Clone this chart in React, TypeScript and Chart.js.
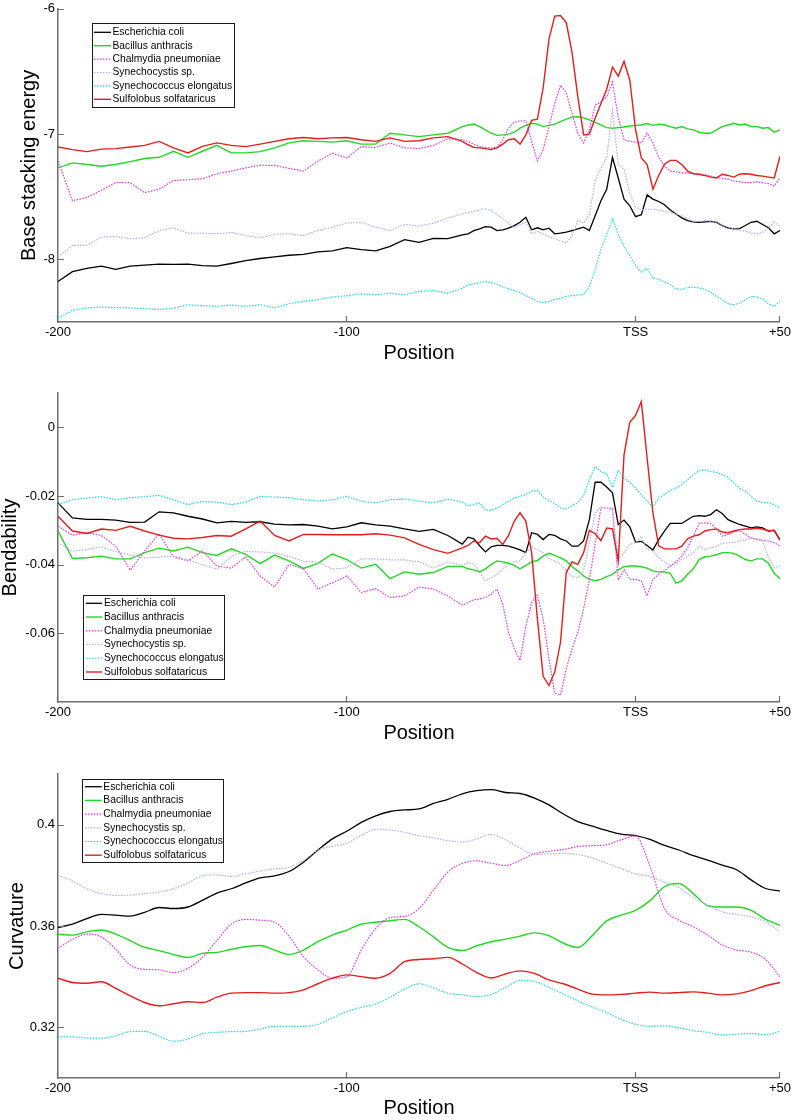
import React, { useEffect, useRef } from 'react';
import { Chart, registerables } from 'chart.js';

Chart.register(...registerables);

const FONT_FAMILY = '"Liberation Sans", Arial, Helvetica, sans-serif';
const AXIS_COLOR = '#6e6e6e';

// ---------- shared categories / ticks ----------
const speciesLabels = [
  'Escherichia coli',
  'Bacillus anthracis',
  'Chalmydia pneumoniae',
  'Synechocystis sp.',
  'Synechococcus elongatus',
  'Sulfolobus solfataricus',
];

const xTickValues = [-200, -100, 0, 50];
const xTickLabels = ['-200', '-100', 'TSS', '+50'];

// positions for the two noisy panels (coarse on the left, finer near the TSS)
const positionsFine = [
  -200, -195, -190, -185, -180, -175, -170, -165, -160, -155,
  -150, -145, -140, -135, -130, -125, -120, -115, -110, -105,
  -100, -95, -90, -85, -80, -75, -70, -65, -60,
  -58, -56, -54, -52, -50, -48, -46, -44, -42, -40,
  -38, -36, -34, -32, -30, -28, -26, -24, -22, -20,
  -18, -16, -14, -12, -10, -8, -6, -4, -2, 0,
  2, 4, 6, 8, 10, 12, 14, 16, 18, 20,
  22, 24, 26, 28, 30, 32, 34, 36, 38, 40,
  42, 44, 46, 48, 50,
];

// positions for the smooth curvature panel
const positionsSmooth = [
  -200, -195, -190, -185, -180, -175, -170, -165, -160, -155,
  -150, -145, -140, -135, -130, -125, -120, -115, -110, -105,
  -100, -95, -90, -85, -80, -75, -70, -65, -60, -55,
  -50, -45, -40, -35, -30, -25, -20, -15, -10, -5,
  0, 5, 10, 15, 20, 25, 30, 35, 40, 45, 50,
];

// ---------- Panel 1: base stacking energy ----------
const energyTickValues = [-8, -7, -6];
const energyTickLabels = ['-8', '-7', '-6'];

const ecoliEnergy = [
  -8.177, -8.098, -8.072, -8.054, -8.08, -8.054, -8.046, -8.038, -8.04, -8.038,
  -8.05, -8.054, -8.033, -8.01, -7.993, -7.98, -7.967, -7.96, -7.94, -7.932,
  -7.906, -7.922, -7.932, -7.896, -7.843, -7.864, -7.833, -7.835, -7.804,
  -7.796, -7.77, -7.756, -7.738, -7.743, -7.77, -7.764, -7.75, -7.73, -7.704,
  -7.664, -7.764, -7.748, -7.764, -7.751, -7.796, -7.791, -7.783, -7.77, -7.757,
  -7.743, -7.77, -7.651, -7.532, -7.44, -7.185, -7.35, -7.519, -7.572, -7.659,
  -7.643, -7.485, -7.519, -7.538, -7.564, -7.606, -7.638, -7.669, -7.69, -7.7,
  -7.704, -7.7, -7.696, -7.704, -7.73, -7.748, -7.756, -7.754, -7.73, -7.704,
  -7.696, -7.722, -7.748, -7.796, -7.77,
];
const bacillusEnergy = [
  -7.27, -7.23, -7.243, -7.256, -7.243, -7.22, -7.195, -7.185, -7.137, -7.185,
  -7.137, -7.09, -7.15, -7.15, -7.14, -7.11, -7.07, -7.053, -7.058, -7.064,
  -7.053, -7.08, -7.08, -6.993, -7.006, -7.02, -7.006, -6.993, -6.94,
  -6.927, -6.92, -6.94, -6.966, -6.993, -7.01, -7.006, -7.0, -6.985, -6.953,
  -6.93, -6.914, -6.92, -6.94, -6.93, -6.92, -6.9, -6.88, -6.864, -6.861,
  -6.87, -6.887, -6.906, -6.927, -6.948, -6.953, -6.948, -6.943, -6.935, -6.93,
  -6.927, -6.916, -6.93, -6.92, -6.927, -6.94, -6.953, -6.94, -6.958, -6.966,
  -6.985, -6.993, -6.993, -6.966, -6.94, -6.927, -6.914, -6.927, -6.92, -6.94,
  -6.94, -6.953, -6.948, -6.985, -6.966,
];
const chlamydiaEnergy = [
  -7.216, -7.532, -7.506, -7.448, -7.388, -7.388, -7.467, -7.44, -7.37, -7.364,
  -7.356, -7.317, -7.295, -7.27, -7.248, -7.25, -7.274, -7.295, -7.216, -7.153,
  -7.19, -7.1, -7.106, -7.07, -7.11, -7.116, -7.09, -7.037, -7.045,
  -7.058, -7.08, -7.098, -7.11, -7.11, -7.106, -7.045, -6.953, -6.906, -6.895,
  -6.895, -7.058, -7.216, -7.124, -6.94, -6.756, -6.61, -6.67, -6.835, -6.993,
  -7.07, -6.966, -6.77, -6.742, -6.703, -6.585, -6.87, -7.045, -7.058, -7.064,
  -7.07, -6.993, -7.07, -7.185, -7.256, -7.295, -7.3, -7.31, -7.31, -7.316,
  -7.32, -7.327, -7.335, -7.348, -7.353, -7.36, -7.374, -7.38, -7.388, -7.388,
  -7.38, -7.388, -7.395, -7.414, -7.348,
];
const synechocystisEnergy = [
  -7.98, -7.888, -7.888, -7.822, -7.817, -7.835, -7.827, -7.77, -7.75, -7.79,
  -7.79, -7.796, -7.785, -7.81, -7.827, -7.8, -7.796, -7.81, -7.77, -7.743,
  -7.71, -7.706, -7.743, -7.77, -7.722, -7.733, -7.711, -7.67, -7.638,
  -7.627, -7.617, -7.606, -7.596, -7.611, -7.643, -7.677, -7.711, -7.743, -7.722,
  -7.705, -7.796, -7.775, -7.796, -7.817, -7.833, -7.854, -7.87, -7.81, -7.69,
  -7.71, -7.64, -7.374, -7.27, -7.19, -6.81, -7.24, -7.28, -7.47, -7.585,
  -7.606, -7.6, -7.6, -7.606, -7.617, -7.627, -7.638, -7.65, -7.677, -7.696,
  -7.696, -7.69, -7.696, -7.711, -7.73, -7.743, -7.756, -7.77, -7.775, -7.79,
  -7.796, -7.785, -7.75, -7.704, -7.738,
];
const synechococcusEnergy = [
  -8.47, -8.407, -8.388, -8.38, -8.385, -8.388, -8.393, -8.4, -8.39, -8.362,
  -8.37, -8.375, -8.364, -8.375, -8.362, -8.388, -8.354, -8.335, -8.322, -8.3,
  -8.29, -8.275, -8.283, -8.27, -8.283, -8.256, -8.248, -8.27, -8.23,
  -8.204, -8.196, -8.185, -8.177, -8.185, -8.2, -8.22, -8.235, -8.25, -8.265,
  -8.29, -8.31, -8.335, -8.345, -8.335, -8.32, -8.31, -8.295, -8.29, -8.285,
  -8.28, -8.22, -8.08, -7.92, -7.8, -7.68, -7.8, -7.9, -7.97, -8.05,
  -8.1, -8.07, -8.15, -8.16, -8.18, -8.2, -8.235, -8.24, -8.225, -8.22,
  -8.228, -8.238, -8.264, -8.296, -8.322, -8.354, -8.362, -8.35, -8.322, -8.296,
  -8.3, -8.317, -8.354, -8.375, -8.335,
];
const sulfolobusEnergy = [
  -7.103, -7.124, -7.14, -7.12, -7.116, -7.103, -7.09, -7.058, -7.11, -7.15,
  -7.098, -7.07, -7.09, -7.1, -7.08, -7.058, -7.037, -7.027, -7.037, -7.03,
  -7.027, -7.045, -7.058, -7.03, -7.058, -7.053, -7.03, -7.02, -7.058,
  -7.085, -7.106, -7.11, -7.116, -7.124, -7.11, -7.08, -7.045, -7.037, -7.08,
  -7.006, -6.89, -6.88, -6.63, -6.242, -6.058, -6.053, -6.11, -6.35, -6.703,
  -7.006, -7.0, -6.874, -6.756, -6.642, -6.466, -6.537, -6.42, -6.57, -6.966,
  -7.19, -7.243, -7.44, -7.33, -7.24, -7.21, -7.21, -7.243, -7.295, -7.316,
  -7.32, -7.33, -7.343, -7.35, -7.32, -7.33, -7.343, -7.32, -7.316, -7.32,
  -7.33, -7.335, -7.343, -7.35, -7.177,
];

// ---------- Panel 2: bendability ----------
const bendTickValues = [-0.06, -0.04, -0.02, 0];
const bendTickLabels = ['-0.06', '-0.04', '-0.02', '0'];

const ecoliBend = [
  -0.022, -0.0264, -0.0268, -0.0268, -0.027, -0.0277, -0.0276, -0.0246, -0.0249, -0.0259,
  -0.0267, -0.0278, -0.0274, -0.0277, -0.0275, -0.0282, -0.0284, -0.0283, -0.0288, -0.0296,
  -0.029, -0.0278, -0.0284, -0.0288, -0.0296, -0.0303, -0.0297, -0.0315, -0.034,
  -0.032, -0.0325, -0.0345, -0.0363, -0.0348, -0.0344, -0.0344, -0.0346, -0.0351, -0.0357,
  -0.0365, -0.0307, -0.0312, -0.0327, -0.0312, -0.0315, -0.0325, -0.0331, -0.0346, -0.0346,
  -0.0331, -0.0269, -0.016, -0.016, -0.0174, -0.0191, -0.0283, -0.027, -0.029, -0.0334,
  -0.0332, -0.0344, -0.0357, -0.0327, -0.0302, -0.028, -0.028, -0.028, -0.0269, -0.0259,
  -0.0257, -0.0259, -0.0254, -0.024, -0.0251, -0.0269, -0.0276, -0.0283, -0.0288, -0.0293,
  -0.029, -0.0293, -0.0302, -0.03, -0.0327,
];
const bacillusBend = [
  -0.0302, -0.0382, -0.038, -0.0375, -0.0383, -0.0383, -0.0365, -0.0352, -0.036, -0.0349,
  -0.0365, -0.0373, -0.0354, -0.037, -0.0397, -0.0372, -0.0389, -0.0411, -0.0396, -0.0369,
  -0.0385, -0.041, -0.0399, -0.0441, -0.0421, -0.0428, -0.0423, -0.0405, -0.0405,
  -0.0412, -0.0415, -0.0421, -0.0412, -0.0399, -0.0389, -0.0392, -0.0396, -0.0402, -0.0412,
  -0.0402, -0.0392, -0.0388, -0.0375, -0.0367, -0.0373, -0.038, -0.0389, -0.0406, -0.0418,
  -0.0433, -0.0443, -0.0447, -0.0443, -0.0435, -0.0428, -0.0415, -0.0406, -0.0404, -0.0404,
  -0.0406, -0.041, -0.0418, -0.0421, -0.0421, -0.0425, -0.0454, -0.0447, -0.0428, -0.0412,
  -0.0385, -0.0377, -0.0375, -0.0371, -0.0365, -0.0365, -0.0367, -0.0375, -0.0385, -0.0389,
  -0.0383, -0.0383, -0.0396, -0.0425, -0.0441,
];
const chlamydiaBend = [
  -0.0288, -0.0314, -0.0307, -0.0315, -0.0346, -0.0416, -0.036, -0.031, -0.0377, -0.0389,
  -0.036, -0.0404, -0.041, -0.0377, -0.0433, -0.0465, -0.0399, -0.0412, -0.0471, -0.0453,
  -0.0433, -0.0481, -0.047, -0.0496, -0.0491, -0.0465, -0.0471, -0.0491, -0.0518,
  -0.051, -0.0502, -0.05, -0.0495, -0.0486, -0.0471, -0.0515, -0.0597, -0.0645, -0.0679,
  -0.058, -0.051, -0.0489, -0.0558, -0.0674, -0.0775, -0.078, -0.0703, -0.0645, -0.0597,
  -0.0529, -0.0443, -0.034, -0.0235, -0.0235, -0.0236, -0.0445, -0.0414, -0.0443, -0.0443,
  -0.0447, -0.0491, -0.0443, -0.0428, -0.0418, -0.0404, -0.0392, -0.0375, -0.0351, -0.0317,
  -0.028, -0.0278, -0.028, -0.0296, -0.0317, -0.0312, -0.0305, -0.03, -0.0312, -0.0322,
  -0.0327, -0.0329, -0.0331, -0.0336, -0.0346,
];
const synechocystisBend = [
  -0.0336, -0.0361, -0.0356, -0.0348, -0.0362, -0.0372, -0.038, -0.0378, -0.0375, -0.0386,
  -0.04, -0.0413, -0.0376, -0.0361, -0.0363, -0.0366, -0.0376, -0.039, -0.0392, -0.0413,
  -0.0409, -0.0383, -0.0383, -0.0386, -0.0386, -0.0392, -0.0409, -0.0392, -0.0402,
  -0.0394, -0.0399, -0.0423, -0.0447, -0.0438, -0.0428, -0.0412, -0.0399, -0.0392, -0.0389,
  -0.0365, -0.0348, -0.0356, -0.0365, -0.0383, -0.0389, -0.0399, -0.0418, -0.0435, -0.0438,
  -0.0418, -0.0336, -0.0249, -0.0232, -0.0235, -0.0244, -0.0385, -0.0365, -0.0341, -0.0336,
  -0.0317, -0.0356, -0.036, -0.038, -0.0392, -0.0404, -0.0399, -0.0385, -0.0375, -0.0365,
  -0.0346, -0.0356, -0.0351, -0.0346, -0.0338, -0.0336, -0.0336, -0.0331, -0.0327, -0.0322,
  -0.0325, -0.0329, -0.038, -0.0409, -0.0404,
];
const synechococcusBend = [
  -0.0225, -0.0211, -0.0206, -0.0202, -0.0211, -0.0205, -0.0202, -0.0198, -0.0211, -0.0225,
  -0.0216, -0.0218, -0.0225, -0.0218, -0.0201, -0.0203, -0.0205, -0.0211, -0.0215, -0.0211,
  -0.0201, -0.0215, -0.022, -0.0211, -0.0209, -0.0215, -0.022, -0.0209, -0.0218,
  -0.0228, -0.0225, -0.022, -0.024, -0.0242, -0.0235, -0.0225, -0.0215, -0.0206, -0.0201,
  -0.0196, -0.0186, -0.0184, -0.0203, -0.0213, -0.0222, -0.0235, -0.0238, -0.0228, -0.022,
  -0.0199, -0.0153, -0.0114, -0.0129, -0.0135, -0.0175, -0.0125, -0.0148, -0.016, -0.0177,
  -0.0196, -0.0215, -0.0232, -0.0206, -0.0196, -0.0184, -0.0177, -0.0167, -0.0153, -0.0138,
  -0.0126, -0.0124, -0.0129, -0.0131, -0.0138, -0.0145, -0.0162, -0.0177, -0.0186, -0.0201,
  -0.0215, -0.0218, -0.022, -0.0225, -0.0235,
];
const sulfolobusBend = [
  -0.0259, -0.0302, -0.0309, -0.0296, -0.03, -0.0288, -0.0302, -0.0314, -0.0323, -0.0325,
  -0.0321, -0.0315, -0.0317, -0.0296, -0.0273, -0.0315, -0.0331, -0.0312, -0.0312, -0.0313,
  -0.0313, -0.0313, -0.031, -0.0314, -0.0322, -0.0341, -0.0356, -0.0367, -0.0351,
  -0.0344, -0.0331, -0.0336, -0.0317, -0.0325, -0.0323, -0.0341, -0.0315, -0.0273, -0.0249,
  -0.0273, -0.0365, -0.0558, -0.0725, -0.0752, -0.0713, -0.0626, -0.0423, -0.0392, -0.0399,
  -0.0365, -0.03, -0.031, -0.033, -0.0293, -0.0296, -0.039, -0.008, 0.0015, 0.0035,
  0.0075, -0.009, -0.0249, -0.0345, -0.0354, -0.0354, -0.0354, -0.0346, -0.0325, -0.0317,
  -0.0313, -0.0302, -0.0298, -0.0296, -0.0305, -0.0307, -0.0302, -0.0298, -0.0296, -0.0296,
  -0.0294, -0.0296, -0.0301, -0.03, -0.0329,
];

// ---------- Panel 3: curvature ----------
const curvTickValues = [0.32, 0.36, 0.4];
const curvTickLabels = ['0.32', '0.36', '0.4'];

const ecoliCurv = [
  0.3594, 0.3607, 0.3629, 0.3646, 0.3643, 0.3639, 0.3654, 0.3673, 0.3669, 0.3675,
  0.3701, 0.373, 0.3747, 0.377, 0.379, 0.3798, 0.3815, 0.3852, 0.39, 0.3944,
  0.3974, 0.4009, 0.4035, 0.4052, 0.4058, 0.4062, 0.4084, 0.41, 0.4122, 0.4134,
  0.4138, 0.4127, 0.4123, 0.4105, 0.4078, 0.4042, 0.4012, 0.3994, 0.3977, 0.3963,
  0.3957, 0.3942, 0.3918, 0.39, 0.3878, 0.386, 0.384, 0.3822, 0.3782, 0.3748, 0.3738,
];
const bacillusCurv = [
  0.3568, 0.3564, 0.3577, 0.3584, 0.3568, 0.3542, 0.3516, 0.3503, 0.3487, 0.3476,
  0.3492, 0.3496, 0.3508, 0.3518, 0.3523, 0.3505, 0.3488, 0.3505, 0.3538, 0.3564,
  0.3584, 0.3607, 0.3615, 0.3621, 0.3626, 0.3597, 0.3557, 0.3516, 0.3503, 0.3522,
  0.3538, 0.3548, 0.356, 0.3573, 0.3562, 0.3532, 0.3515, 0.3562, 0.362, 0.3643,
  0.3662, 0.37, 0.3755, 0.3768, 0.3728, 0.368, 0.3675, 0.3675, 0.3662, 0.3626, 0.3603,
];
const chlamydiaCurv = [
  0.3512, 0.3547, 0.3568, 0.3557, 0.3508, 0.3446, 0.3429, 0.3427, 0.3416, 0.3433,
  0.3476, 0.3542, 0.3607, 0.3626, 0.3623, 0.3615, 0.356, 0.3479, 0.3427, 0.3394,
  0.34, 0.3505, 0.359, 0.3633, 0.3638, 0.3669, 0.3741, 0.3813, 0.3848, 0.3857,
  0.3848, 0.3839, 0.3859, 0.3885, 0.3895, 0.3902, 0.3914, 0.3917, 0.3921, 0.394,
  0.3955, 0.3835, 0.3669, 0.3623, 0.3597, 0.3564, 0.3525, 0.3505, 0.3497, 0.3468, 0.34,
];
const synechocystisCurv = [
  0.38, 0.3777, 0.3747, 0.3728, 0.3721, 0.3722, 0.3728, 0.3734, 0.3747, 0.377,
  0.3798, 0.3802, 0.3796, 0.3806, 0.3817, 0.3825, 0.3832, 0.3859, 0.39, 0.3914,
  0.3927, 0.3957, 0.3982, 0.3979, 0.397, 0.3957, 0.3948, 0.3937, 0.3931, 0.3944,
  0.3961, 0.394, 0.3908, 0.3882, 0.3885, 0.3887, 0.3882, 0.3869, 0.3848, 0.3826,
  0.3806, 0.3796, 0.3773, 0.3751, 0.3712, 0.3682, 0.3656, 0.3646, 0.3636, 0.3616, 0.3577,
];
const synechococcusCurv = [
  0.3162, 0.3162, 0.3158, 0.3157, 0.3167, 0.3183, 0.3184, 0.3165, 0.3145, 0.3154,
  0.3175, 0.318, 0.3183, 0.3184, 0.3193, 0.3204, 0.3204, 0.3204, 0.3212, 0.3237,
  0.3262, 0.3279, 0.3292, 0.3319, 0.3351, 0.3372, 0.3356, 0.3335, 0.3328, 0.3322,
  0.333, 0.3358, 0.3385, 0.3381, 0.3358, 0.3331, 0.3305, 0.328, 0.3258, 0.3232,
  0.3212, 0.3204, 0.3206, 0.3198, 0.3187, 0.318, 0.317, 0.3173, 0.3175, 0.3171, 0.3184,
];
const sulfolobusCurv = [
  0.3394, 0.3377, 0.3374, 0.338, 0.3354, 0.3324, 0.3298, 0.3285, 0.3293, 0.3301,
  0.3298, 0.3319, 0.3335, 0.3337, 0.3337, 0.3335, 0.3337, 0.3348, 0.3372, 0.3394,
  0.3407, 0.34, 0.3394, 0.3413, 0.3459, 0.3468, 0.3471, 0.3476, 0.345, 0.3416,
  0.3395, 0.3411, 0.3423, 0.3413, 0.3387, 0.3372, 0.3351, 0.3331, 0.3328, 0.333,
  0.3335, 0.3339, 0.3335, 0.3337, 0.334, 0.3335, 0.3328, 0.3332, 0.3345, 0.3364, 0.3377,
];

// ---------- styles ----------
const seriesStyles = [
  { color: '#000000', dash: [], width: 1.3 },
  { color: '#22d822', dash: [], width: 1.4 },
  { color: '#e63be6', dash: [1.6, 1.3], width: 1.2 },
  { color: '#b2b2ea', dash: [1.6, 1.3], width: 1.2 },
  { color: '#27dcdc', dash: [1.6, 1.3], width: 1.2 },
  { color: '#e41d1d', dash: [], width: 1.4 },
];

const panels = [
  {
    key: 'energy', top: 0, height: 367, padTop: 6, xAxisHeight: 45, xTitlePad: 4,
    yTitle: 'Base stacking energy', yTitlePad: 19.5,
    yMin: -8.5, yMax: -6, yTicks: energyTickValues, yTickLabels: energyTickLabels,
    positions: positionsFine, smooth: false,
    series: [ecoliEnergy, bacillusEnergy, chlamydiaEnergy, synechocystisEnergy, synechococcusEnergy, sulfolobusEnergy],
    legend: { x: 92, y: 23, w: 142, h: 84, row0: 32.3, gap: 13.4, lx1: 94, lx2: 111, tx: 112.5, fontSize: 10.3 },
  },
  {
    key: 'bend', top: 370, height: 377, padTop: 23, xAxisHeight: 45, xTitlePad: 4,
    yTitle: 'Bendability', yTitlePad: 0.6,
    yMin: -0.08, yMax: 0.01, yTicks: bendTickValues, yTickLabels: bendTickLabels,
    positions: positionsFine, smooth: false,
    series: [ecoliBend, bacillusBend, chlamydiaBend, synechocystisBend, synechococcusBend, sulfolobusBend],
    legend: { x: 83, y: 225, w: 141, h: 84, row0: 233.3, gap: 13.74, lx1: 86, lx2: 102, tx: 104, fontSize: 10.3 },
  },
  {
    key: 'curv', top: 750, height: 370, padTop: 24, xAxisHeight: 42, xTitlePad: 2,
    yTitle: 'Curvature', yTitlePad: 7,
    yMin: 0.3, yMax: 0.42, yTicks: curvTickValues, yTickLabels: curvTickLabels,
    positions: positionsSmooth, smooth: true,
    series: [ecoliCurv, bacillusCurv, chlamydiaCurv, synechocystisCurv, synechococcusCurv, sulfolobusCurv],
    legend: { x: 82, y: 29, w: 141, h: 83, row0: 36.7, gap: 13.7, lx1: 85, lx2: 101.7, tx: 103.3, fontSize: 10.3 },
  },
];

// ---------- plugins ----------
const inwardTicksPlugin = {
  id: 'inwardTicks',
  afterDraw(chart: any) {
    const { ctx, chartArea } = chart;
    const xs = chart.scales.x;
    const ys = chart.scales.y;
    ctx.save();
    ctx.strokeStyle = AXIS_COLOR;
    ctx.lineWidth = 1.2;
    ctx.beginPath();
    for (const t of xs.ticks) {
      const px = Math.round(xs.getPixelForValue(t.value)) - 0.5;
      ctx.moveTo(px, chartArea.bottom);
      ctx.lineTo(px, chartArea.bottom - 6);
    }
    for (const t of ys.ticks) {
      const py = Math.round(ys.getPixelForValue(t.value)) + 0.5;
      ctx.moveTo(chartArea.left, py);
      ctx.lineTo(chartArea.left + 6, py);
    }
    ctx.stroke();
    ctx.restore();
  },
};

const boxLegendPlugin = {
  id: 'boxLegend',
  afterDraw(chart: any, _args: any, opts: any) {
    const { ctx } = chart;
    ctx.save();
    ctx.fillStyle = '#ffffff';
    ctx.fillRect(opts.x, opts.y, opts.w, opts.h);
    ctx.strokeStyle = '#1a1a1a';
    ctx.lineWidth = 1;
    ctx.strokeRect(opts.x + 0.5, opts.y + 0.5, opts.w, opts.h);
    ctx.font = `${opts.fontSize}px ${FONT_FAMILY}`;
    ctx.textBaseline = 'middle';
    ctx.textAlign = 'left';
    chart.data.datasets.forEach((ds: any, i: number) => {
      const yy = opts.row0 + i * opts.gap;
      ctx.beginPath();
      ctx.setLineDash(ds.borderDash || []);
      ctx.strokeStyle = ds.borderColor;
      ctx.lineWidth = ds.borderWidth;
      ctx.moveTo(opts.lx1, yy);
      ctx.lineTo(opts.lx2, yy);
      ctx.stroke();
      ctx.setLineDash([]);
      ctx.fillStyle = '#000000';
      ctx.fillText(ds.label, opts.tx, yy);
    });
    ctx.restore();
  },
};

function buildConfig(p: any) {
  const datasets = p.series.map((values: number[], i: number) => ({
    label: speciesLabels[i],
    data: p.positions.map((x: number, j: number) => ({ x, y: values[j] })),
    borderColor: seriesStyles[i].color,
    backgroundColor: seriesStyles[i].color,
    borderDash: seriesStyles[i].dash,
    borderWidth: seriesStyles[i].width,
    pointRadius: 0,
    fill: false,
    tension: p.smooth ? 0.4 : 0,
    cubicInterpolationMode: p.smooth ? 'monotone' : 'default',
    order: 5 - i,
  }));
  return {
    type: 'line',
    data: { datasets },
    plugins: [inwardTicksPlugin, boxLegendPlugin],
    options: {
      responsive: false,
      maintainAspectRatio: false,
      animation: false,
      devicePixelRatio: 1,
      events: [],
      layout: { padding: { top: p.padTop, left: 0, right: 14, bottom: 0 } },
      plugins: {
        legend: { display: false },
        tooltip: { enabled: false },
        title: { display: false },
        boxLegend: p.legend,
      },
      scales: {
        x: {
          type: 'linear',
          min: -200,
          max: 50,
          grid: { display: false, drawTicks: false },
          border: { display: true, color: AXIS_COLOR, width: 1.5 },
          afterBuildTicks: (scale: any) => {
            scale.ticks = xTickValues.map((v) => ({ value: v }));
          },
          afterFit: (scale: any) => {
            scale.height = p.xAxisHeight;
          },
          ticks: {
            autoSkip: false,
            maxRotation: 0,
            padding: 3,
            color: '#000000',
            font: { family: FONT_FAMILY, size: 13 },
            callback: (_v: any, index: number) => xTickLabels[index],
          },
          title: {
            display: true,
            text: 'Position',
            color: '#000000',
            font: { family: FONT_FAMILY, size: 20, lineHeight: 1 },
            padding: { top: 0, bottom: p.xTitlePad },
          },
        },
        y: {
          type: 'linear',
          min: p.yMin,
          max: p.yMax,
          grid: { display: false, drawTicks: false },
          border: { display: true, color: AXIS_COLOR, width: 1.5 },
          afterBuildTicks: (scale: any) => {
            scale.ticks = p.yTicks.map((v: number) => ({ value: v }));
          },
          afterFit: (scale: any) => {
            scale.width = 58;
          },
          ticks: {
            padding: 3,
            color: '#000000',
            font: { family: FONT_FAMILY, size: 13, lineHeight: 0.9 },
            callback: (_v: any, index: number) => p.yTickLabels[index],
          },
          title: {
            display: true,
            text: p.yTitle,
            color: '#000000',
            font: { family: FONT_FAMILY, size: 20, lineHeight: 1 },
            padding: { top: p.yTitlePad, bottom: 0 },
          },
        },
      },
    },
  };
}

function Panel({ spec }: { spec: any }) {
  const ref = useRef<HTMLCanvasElement | null>(null);
  useEffect(() => {
    if (!ref.current) return;
    const chart = new Chart(ref.current, buildConfig(spec) as any);
    return () => chart.destroy();
  }, [spec]);
  return (
    <canvas
      ref={ref}
      width={794}
      height={spec.height}
      style={{ position: 'absolute', left: 0, top: spec.top, width: 794, height: spec.height, display: 'block' }}
    />
  );
}

export default function App() {
  return (
    <div style={{ position: 'absolute', left: 0, top: 0, width: 794, height: 1120, background: '#ffffff', overflow: 'hidden' }}>
      {panels.map((p) => (
        <Panel key={p.key} spec={p} />
      ))}
    </div>
  );
}
